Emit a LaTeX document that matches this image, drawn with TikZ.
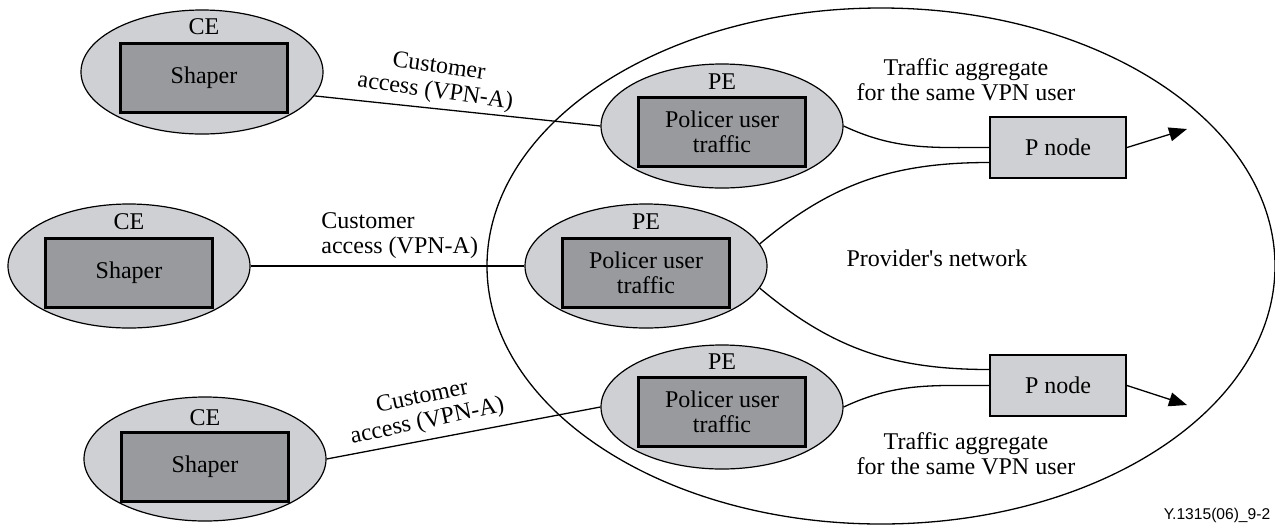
\documentclass[tikz,border=0pt]{standalone}
\usepackage{fontspec}
\setmainfont{Liberation Serif}
\newfontfamily\plainfont{Liberation Serif}
\newfontfamily\figfont{Liberation Sans}
\usetikzlibrary{shapes.geometric,arrows.meta}
\definecolor{ellgray}{RGB}{207,208,212}
\definecolor{boxgray}{RGB}{152,154,158}
\begin{document}
\begin{tikzpicture}[x=0.5pt,y=0.5pt,
  every node/.style={font=\fontsize{12}{12.5}\selectfont},
  dev/.style={ellipse,draw,line width=0.6pt,fill=ellgray,minimum width=121pt,minimum height=62pt,inner sep=0pt},
  func/.style={rectangle,draw,line width=1.5pt,fill=boxgray,minimum width=83.5pt,minimum height=34.5pt,inner sep=0pt,align=center},
  pnode/.style={rectangle,draw,line width=1pt,fill=ellgray,minimum width=68pt,minimum height=30.5pt,inner sep=0pt},
  link/.style={line width=0.65pt},
  arr/.style={line width=0.65pt,-{Triangle[length=9pt,width=7pt]}},
  lbl/.style={align=center,inner sep=0pt}]
\useasboundingbox (0,0) rectangle (1275,-526);
% provider network
\node[ellipse,draw,line width=0.65pt,minimum width=394pt,minimum height=258pt,inner sep=0pt] (net) at (881,-266) {};
% CE devices
\node[dev] (CE1) at (202,-72) {};
\node[dev] (CE2) at (129,-266) {};
\node[dev] (CE3) at (205,-459) {};
\node[func] (S1) at (204,-77.5) {Shaper};
\node[func] (S2) at (129,-273) {Shaper};
\node[func] (S3) at (205,-467) {Shaper};
\node[lbl] (ce1l) at (204,-27) {CE};
\node[lbl] (ce2l) at (129,-222) {CE};
\node[lbl] (ce3l) at (205,-418) {CE};
% PE devices
\node[dev] (PE1) at (722,-126) {};
\node[dev] (PE2) at (646,-266) {};
\node[dev] (PE3) at (722,-407) {};
\node[func] (R1) at (722,-132) {Policer user\\traffic};
\node[func] (R2) at (646,-273) {Policer user\\traffic};
\node[func] (R3) at (722,-412) {Policer user\\traffic};
\node[lbl] (pe1l) at (722,-82) {PE};
\node[lbl] (pe2l) at (646,-222) {PE};
\node[lbl] (pe3l) at (722,-362) {PE};
% P nodes
\node[pnode] (P1) at (1058,-147.5) {P node};
\node[pnode] (P2) at (1058,-385.5) {P node};
% access links
\draw[link] (CE1.-12) -- (PE1.west);
\draw[link] (CE2.east) -- (PE2.west);
\draw[link] (CE3.east) -- (PE3.west);
% aggregates
\draw[link] (PE1.east) to[out=-25,in=180] (P1.west);
\draw[link] (PE2.11) to[out=40,in=180] ([yshift=-7.5pt]P1.west);
\draw[link] (PE2.-11) to[out=-40,in=180] ([yshift=8pt]P2.west);
\draw[link] (PE3.east) to[out=25,in=180] (P2.west);
% outgoing arrows
\coordinate (a1) at (1187,-129);
\coordinate (a2) at (1187,-405);
\draw[arr] (P1.east) -- (a1);
\draw[arr] (P2.east) -- (a2);
% labels
\node[lbl,rotate=-8] (acc1) at (437,-80) {Customer\\access (VPN-A)};
\node[lbl,align=left,anchor=west] (acc2) at (321,-236) {Customer\\access (VPN-A)};
\node[lbl,rotate=12] (acc3) at (425,-410) {Customer\\access (VPN-A)};
\node[lbl] (agg1) at (966,-80) {Traffic aggregate\\for the same VPN user};
\node[lbl] (agg2) at (966,-454) {Traffic aggregate\\for the same VPN user};
\node[lbl,font=\plainfont\fontsize{12}{12.5}\selectfont] (prov) at (937,-258) {Provider's network};
\node[lbl,font=\figfont\fontsize{7.8}{9}\selectfont] (fig) at (1217,-515) {Y.1315(06)\_9-2};
\end{tikzpicture}
\end{document}
